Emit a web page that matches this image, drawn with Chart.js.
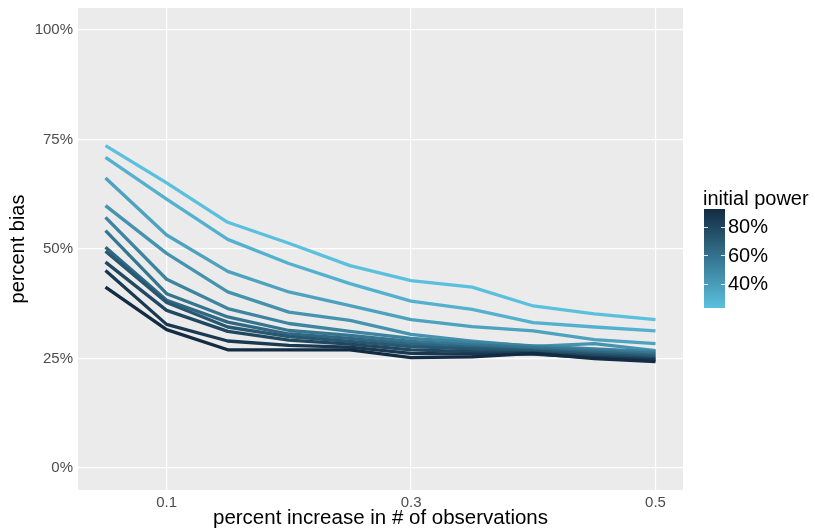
<!DOCTYPE html>
<html>
<head>
<meta charset="utf-8">
<script src="https://cdn.jsdelivr.net/npm/chart.js@4.4.1/dist/chart.umd.min.js"></script>
<style>
  html, body { margin: 0; padding: 0; background: #fff; }
  #wrap { width: 815px; height: 531px; }
</style>
</head>
<body>
<div id="wrap"><canvas id="biasChart" width="815" height="531"></canvas></div>
<script>
'use strict'

// x: percent increase in # of observations
const increase = [0.05, 0.1, 0.15, 0.2, 0.25, 0.3, 0.35, 0.4, 0.45, 0.5];

// initial power of each line (lightest first)
const initialPower = [0.232, 0.30, 0.37, 0.44, 0.51, 0.58, 0.65, 0.72, 0.79, 0.86, 0.924];

// percent bias per line
const bias23 = [0.736, 0.651, 0.561, 0.513, 0.462, 0.428, 0.413, 0.370, 0.352, 0.339];
const bias30 = [0.709, 0.614, 0.522, 0.467, 0.421, 0.381, 0.362, 0.332, 0.322, 0.313];
const bias37 = [0.662, 0.532, 0.449, 0.402, 0.371, 0.339, 0.323, 0.313, 0.293, 0.284];
const bias44 = [0.599, 0.490, 0.402, 0.356, 0.337, 0.305, 0.290, 0.278, 0.284, 0.268];
const bias51 = [0.572, 0.431, 0.364, 0.330, 0.312, 0.296, 0.287, 0.279, 0.272, 0.266];
const bias58 = [0.542, 0.398, 0.345, 0.314, 0.303, 0.289, 0.281, 0.275, 0.268, 0.262];
const bias65 = [0.504, 0.383, 0.333, 0.306, 0.296, 0.283, 0.276, 0.270, 0.264, 0.258];
const bias72 = [0.495, 0.378, 0.322, 0.300, 0.289, 0.277, 0.272, 0.267, 0.260, 0.254];
const bias79 = [0.470, 0.360, 0.312, 0.292, 0.283, 0.270, 0.266, 0.263, 0.256, 0.250];
const bias86 = [0.451, 0.328, 0.290, 0.280, 0.276, 0.262, 0.260, 0.260, 0.252, 0.247];
const bias92 = [0.413, 0.316, 0.270, 0.270, 0.270, 0.252, 0.254, 0.262, 0.250, 0.243];
const biasSeries = [bias23, bias30, bias37, bias44, bias51, bias58, bias65, bias72, bias79, bias86, bias92];

const xTicks = [0.1, 0.3, 0.5];
const yTicks = [0, 0.25, 0.5, 0.75, 1];
const legendTicks = [0.4, 0.6, 0.8];

const lowColor = [90, 192, 222];
const highColor = [19, 43, 67];
const pMin = Math.min(...initialPower);
const pMax = Math.max(...initialPower);

function powerColor(p) {
    const t = (p - pMin) / (pMax - pMin);
    const c = lowColor.map((v, i) => Math.round(v + (highColor[i] - v) * t));
    return 'rgb(' + c.join(',') + ')';
}

const FONT = '"Liberation Sans", Arial, sans-serif';

const panelBackground = {
    id: 'panelBackground',
    beforeDraw(chart) {
        const {ctx, chartArea} = chart;
        ctx.save();
        ctx.fillStyle = '#EBEBEB';
        ctx.fillRect(chartArea.left, chartArea.top, chartArea.right - chartArea.left, chartArea.bottom - chartArea.top);
        ctx.restore();
    }
};

const colorBarLegend = {
    id: 'colorBarLegend',
    afterDraw(chart) {
        const ctx = chart.ctx;
        const barX = 704, barW = 21, barTop = 209, barBottom = 308;
        const yOf = v => barBottom - (v - pMin) / (pMax - pMin) * (barBottom - barTop);
        ctx.save();
        ctx.fillStyle = '#000';
        ctx.font = '20px ' + FONT;
        ctx.textBaseline = 'alphabetic';
        ctx.textAlign = 'left';
        ctx.fillText('initial power', 703, 205);

        const grad = ctx.createLinearGradient(0, barBottom, 0, barTop);
        for (let i = 0; i <= 20; i++) {
            const t = i / 20;
            grad.addColorStop(t, powerColor(pMin + t * (pMax - pMin)));
        }
        ctx.fillStyle = grad;
        ctx.fillRect(barX, barTop, barW, barBottom - barTop);

        ctx.strokeStyle = 'rgba(255,255,255,0.85)';
        ctx.lineWidth = 1;
        ctx.textBaseline = 'middle';
        ctx.fillStyle = '#000';
        legendTicks.forEach(v => {
            const y = Math.round(yOf(v)) + 0.5;
            ctx.beginPath();
            ctx.moveTo(barX, y); ctx.lineTo(barX + 4, y);
            ctx.moveTo(barX + barW - 4, y); ctx.lineTo(barX + barW, y);
            ctx.stroke();
            ctx.fillText(Math.round(v * 100) + '%', 728, yOf(v) + 1);
        });
        ctx.restore();
    }
};

const datasets = biasSeries.map((values, i) => ({
    label: String(initialPower[i]),
    data: increase.map((x, j) => ({x: x, y: values[j]})),
    borderColor: powerColor(initialPower[i]),
    borderWidth: 3.3,
    pointRadius: 0,
    fill: false,
    tension: 0,
    borderJoinStyle: 'round',
    order: biasSeries.length - i
}));

const biasChart = new Chart(document.getElementById('biasChart'), {
    type: 'line',
    data: {datasets: datasets},
    plugins: [panelBackground, colorBarLegend],
    options: {
        responsive: false,
        animation: false,
        layout: {padding: {left: 0, top: 8, right: 132, bottom: 0}},
        plugins: {legend: {display: false}, tooltip: {enabled: false}},
        scales: {
            x: {
                type: 'linear',
                min: 0.0275,
                max: 0.5225,
                afterFit: s => { s.height = 41; s.paddingLeft = 0; s.paddingRight = 0; },
                afterBuildTicks: s => { s.ticks = xTicks.map(v => ({value: v})); },
                grid: {color: '#FFFFFF', lineWidth: 1.2, drawTicks: false},
                border: {display: false},
                ticks: {
                    padding: 4,
                    color: '#4D4D4D',
                    font: {family: FONT, size: 15},
                    callback: v => String(v)
                },
                title: {
                    display: true,
                    text: 'percent increase in # of observations',
                    color: '#000',
                    font: {family: FONT, size: 20.5},
                    padding: {top: 0, bottom: 0}
                }
            },
            y: {
                type: 'linear',
                min: -0.05,
                max: 1.05,
                afterFit: s => { s.width = 78; s.paddingTop = 0; s.paddingBottom = 0; },
                afterBuildTicks: s => { s.ticks = yTicks.map(v => ({value: v})); },
                grid: {color: '#FFFFFF', lineWidth: 1.2, drawTicks: false},
                border: {display: false},
                ticks: {
                    padding: 5,
                    color: '#4D4D4D',
                    font: {family: FONT, size: 15},
                    callback: v => Math.round(v * 100) + '%'
                },
                title: {
                    display: true,
                    text: 'percent bias',
                    color: '#000',
                    font: {family: FONT, size: 20},
                    padding: {top: 6, bottom: 0}
                }
            }
        }
    }
});
</script>
</body>
</html>
